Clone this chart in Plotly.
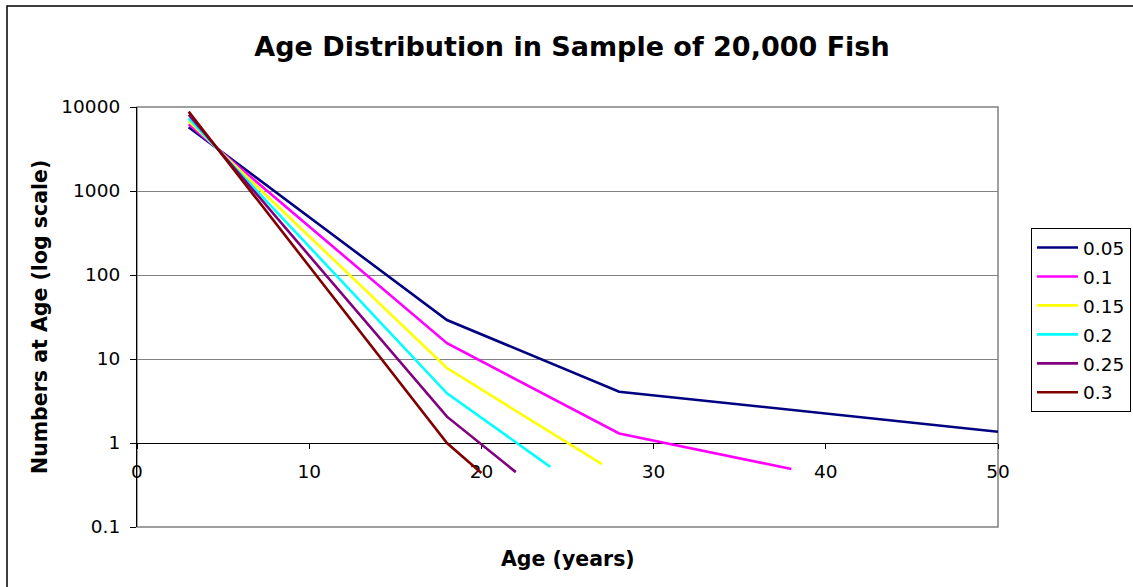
import plotly.graph_objects as go

# ---- data ----
series_names = ["0.05", "0.1", "0.15", "0.2", "0.25", "0.3"]
series_colors = ["#000080", "#FF00FF", "#FFFF00", "#00FFFF", "#800080", "#800000"]

ages_005 = [3, 18, 28, 50]
nums_005 = [5750, 29.1, 4.08, 1.36]

ages_010 = [3, 18, 28, 38]
nums_010 = [6220, 15.4, 1.30, 0.49]

ages_015 = [3, 18, 27]
nums_015 = [6790, 7.8, 0.56]

ages_020 = [3, 18, 24]
nums_020 = [7340, 3.9, 0.52]

ages_025 = [3, 18, 22]
nums_025 = [8090, 2.06, 0.45]

ages_030 = [3, 18, 20]
nums_030 = [8810, 1.0, 0.44]

x_tick_vals = [0, 10, 20, 30, 40, 50]
y_tick_vals = [0.1, 1, 10, 100, 1000, 10000]
y_tick_text = ["0.1", "1", "10", "100", "1000", "10000"]

all_ages = [ages_005, ages_010, ages_015, ages_020, ages_025, ages_030]
all_nums = [nums_005, nums_010, nums_015, nums_020, nums_025, nums_030]

FONT = "DejaVu Sans"
TICK_SIZE = 18.5

fig = go.Figure()
for name, col, xs, ys in zip(series_names, series_colors, all_ages, all_nums):
    fig.add_trace(go.Scatter(x=xs, y=ys, mode="lines", name=name,
                             legendgroup=name,
                             line=dict(color=col, width=2.6)))

W, H = 1133, 587
L, R, T, B = 137, 998, 107, 527
pw, ph = R - L, B - T

def px_x(x):
    return (x - L) / pw

def px_y(y):
    return (B - y) / ph

fig.update_layout(
    width=W, height=H,
    margin=dict(l=L, r=W - R, t=T, b=H - B, autoexpand=False),
    paper_bgcolor="white", plot_bgcolor="white",
    font=dict(family=FONT, size=TICK_SIZE, color="black"),
    title=dict(text="<b>Age Distribution in Sample of 20,000 Fish</b>",
               x=572 / W, xref="container", xanchor="center",
               y=1 - 47 / H, yref="container", yanchor="middle",
               font=dict(family=FONT, size=27, color="black")),
    showlegend=True,
    legend=dict(x=px_x(1031), y=px_y(228), xanchor="left", yanchor="top",
                bordercolor="black", borderwidth=1, bgcolor="white",
                font=dict(family=FONT, size=18.5, color="black"),
                tracegroupgap=1.9, itemwidth=41, traceorder="grouped"),
    xaxis=dict(range=[0, 50], tickmode="array", tickvals=x_tick_vals,
               showgrid=False, zeroline=False,
               showline=True, linecolor="black", linewidth=1,
               ticks="outside", ticklen=5, tickcolor="black",
               anchor="free", position=0.2, layer="below traces",
               ticklabelstandoff=7,
               tickfont=dict(family=FONT, size=TICK_SIZE, color="black")),
    yaxis=dict(type="log", range=[-1, 4], tickmode="array",
               tickvals=y_tick_vals, ticktext=y_tick_text,
               showgrid=True, gridcolor="#808080", gridwidth=1,
               zeroline=False,
               showline=True, linecolor="black", linewidth=1.2,
               ticks="outside", ticklen=6, tickcolor="black",
               ticklabelstandoff=6,
               tickfont=dict(family=FONT, size=TICK_SIZE, color="black")),
    shapes=[
        dict(type="rect", xref="paper", yref="paper", x0=0, y0=0, x1=1, y1=1,
             line=dict(color="#808080", width=1.5), layer="below"),
        dict(type="rect", xref="paper", yref="paper",
             x0=px_x(7), y0=px_y(600), x1=px_x(1150), y1=px_y(6),
             line=dict(color="black", width=1.5), layer="below"),
    ],
    annotations=[
        dict(text="<b>Numbers at Age (log scale)</b>", xref="paper", yref="paper",
             x=px_x(40), y=0.5, xanchor="center", yanchor="middle",
             textangle=-90, showarrow=False,
             font=dict(family=FONT, size=20.5, color="black")),
        dict(text="<b>Age (years)</b>", xref="paper", yref="paper",
             x=0.5, y=px_y(559), xanchor="center", yanchor="middle",
             showarrow=False,
             font=dict(family=FONT, size=20.5, color="black")),
    ],
)

fig.write_html("out.html",
               config={"displayModeBar": False},
               post_script="document.body.style.margin='0';"
                           "document.body.style.overflow='hidden';")
